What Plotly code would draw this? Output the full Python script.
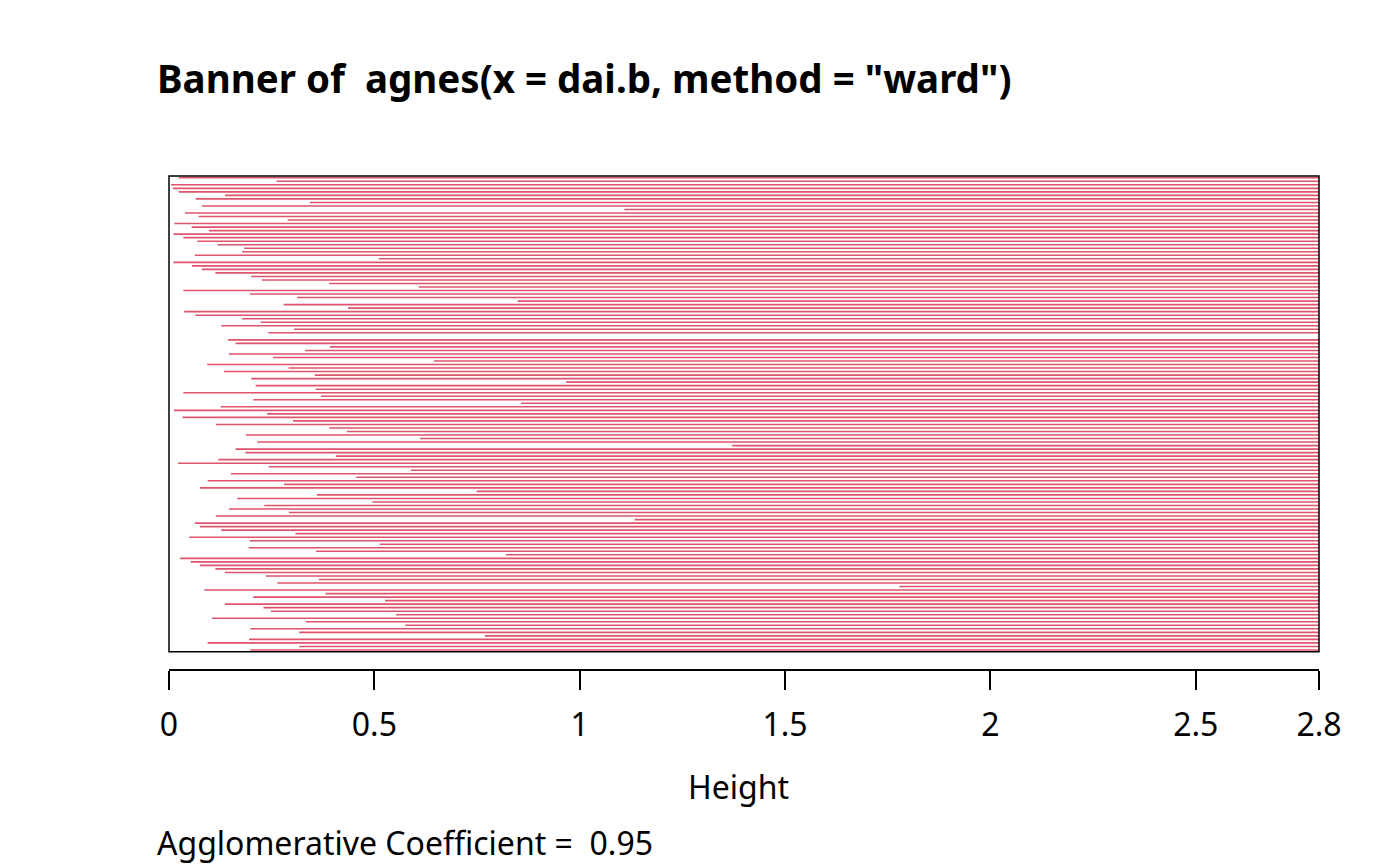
import plotly.graph_objects as go

# merge heights, one per banner row, read from top to bottom
heights = [
    0.024, 0.262, 0.005, 0.009, 0.024, 0.136, 0.065, 0.343, 0.080, 1.109,
    0.039, 0.072, 0.289, 0.013, 0.055, 0.097, 0.011, 0.035, 0.069, 0.118,
    0.183, 0.178, 0.063, 0.511, 0.011, 0.056, 0.080, 0.113, 0.200, 0.226,
    0.390, 0.608, 0.035, 0.197, 0.312, 0.849, 0.279, 0.436, 0.037, 0.064,
    0.178, 0.223, 0.127, 0.304, 0.242, 2.800, 0.144, 0.162, 0.392, 0.331,
    0.146, 0.253, 0.645, 0.093, 0.291, 0.134, 0.355, 0.200, 0.967, 0.211,
    0.357, 0.035, 0.370, 0.205, 0.857, 0.126, 0.012, 0.239, 0.033, 0.302,
    0.114, 0.390, 0.433, 0.187, 0.611, 0.215, 1.371, 0.162, 0.186, 0.406,
    0.120, 0.022, 0.243, 0.589, 0.151, 0.456, 0.094, 0.280, 0.075, 0.749,
    0.360, 0.166, 0.495, 0.232, 0.146, 0.292, 0.114, 1.134, 0.063, 0.075,
    0.127, 0.308, 0.049, 0.196, 0.513, 0.194, 0.358, 0.820, 0.027, 0.053,
    0.075, 0.113, 0.136, 0.236, 0.365, 0.264, 1.778, 0.086, 0.381, 0.205,
    0.526, 0.136, 0.230, 0.248, 0.553, 0.105, 0.333, 0.575, 0.198, 0.317,
    0.769, 0.195, 0.094, 0.317, 0.198,
]
max_height = 2.8
tick_vals = [0, 0.5, 1, 1.5, 2, 2.5, 2.8]
tick_text = ["0", "0.5", "1", "1.5", "2", "2.5", "2.8"]
ac = 0.95

n = len(heights)
xs, ys = [], []
for i, h in enumerate(heights):
    xs += [h, max_height, None]
    ys += [i + 0.5, i + 0.5, None]

fig = go.Figure()
fig.add_trace(go.Scatter(x=xs, y=ys, mode="lines",
                         line=dict(color="#DF536B", width=1.6),
                         hoverinfo="skip", showlegend=False))

fig.add_shape(type="rect", xref="x domain", yref="y domain",
              x0=0, x1=1, y0=0, y1=1, line=dict(color="black", width=1.5))

font = "Noto Sans"
fig.update_layout(
    width=1400, height=866,
    margin=dict(l=161, r=89, t=168, b=204),
    plot_bgcolor="white", paper_bgcolor="white",
    font=dict(family=font, size=32, color="black"),
    xaxis=dict(range=[0, max_height], anchor="free", position=0,
               showgrid=False, zeroline=False, showline=True,
               linecolor="black", linewidth=1.5,
               ticks="outside", ticklen=19, tickwidth=1.5, tickcolor="black",
               tickvals=tick_vals, ticktext=tick_text, ticklabelstandoff=8),
    yaxis=dict(range=[n, 0], domain=[0.037, 1], visible=False,
               showgrid=False, zeroline=False),
    annotations=[
        dict(text='<b>Banner of \u00a0agnes(x = dai.b, method = "ward")</b>',
             xref="paper", yref="paper", x=-0.0122, y=1.198,
             xanchor="left", yanchor="middle", showarrow=False,
             font=dict(size=38.5)),
        dict(text="Height", xref="paper", yref="paper", x=0.495, y=-0.235,
             xanchor="center", yanchor="middle", showarrow=False),
        dict(text="Agglomerative Coefficient = \u00a0%.2f" % ac,
             xref="paper", yref="paper", x=-0.0122, y=-0.350,
             xanchor="left", yanchor="middle", showarrow=False),
    ],
)

fig.write_html("out.html")
